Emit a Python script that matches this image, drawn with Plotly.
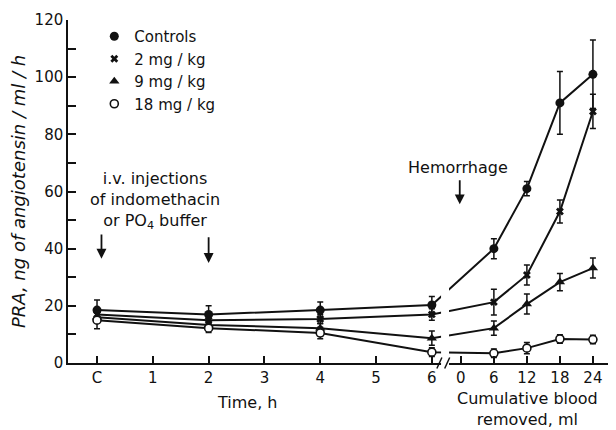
import plotly.graph_objects as go

# ---- data ----
hour_ticks = [0, 1, 2, 3, 4, 5, 6]
hour_labels = ["C", "1", "2", "3", "4", "5", "6"]
ml_ticks = [0, 6, 12, 18, 24]
ml_labels = ["0", "6", "12", "18", "24"]

hours = [0, 2, 4, 6]          # C = control sample
ml = [6, 12, 18, 24]          # cumulative blood removed

series_names = ["Controls", "2 mg / kg", "9 mg / kg", "18 mg / kg"]

controls_time = [18.5, 17.0, 18.5, 20.3]
controls_time_err = [3.5, 3.0, 2.8, 3.0]
controls_blood = [40.0, 61.0, 91.0, 101.0]
controls_blood_err = [3.5, 2.5, 11.0, 12.0]

mg2_time = [17.0, 15.0, 15.4, 17.0]
mg2_time_err = [2.0, 2.0, 1.5, 2.0]
mg2_blood = [21.3, 30.8, 53.0, 88.0]
mg2_blood_err = [4.5, 3.5, 4.0, 6.0]

mg9_time = [16.0, 13.3, 12.2, 8.7]
mg9_time_err = [1.5, 1.5, 1.5, 2.5]
mg9_blood = [12.2, 20.6, 28.3, 33.2]
mg9_blood_err = [2.5, 3.5, 3.0, 3.5]

mg18_time = [15.0, 12.2, 10.5, 3.8]
mg18_time_err = [3.0, 1.5, 2.0, 1.5]
mg18_blood = [3.4, 5.2, 8.4, 8.2]
mg18_blood_err = [1.5, 2.0, 1.5, 1.5]

# ---- broken x scale: the blood-removed segment placed after the time segment ----
ML_ORIGIN = 6.52      # axis position of 0 ml
ML_UNIT = 0.0986      # axis units per ml


def ml_pos(v):
    return ML_ORIGIN + v * ML_UNIT


FONT = "DejaVu Sans"
BLACK = "#111111"

styles = [
    dict(symbol="circle", size=9, color=BLACK, line=dict(width=0)),
    dict(symbol="x", size=7, color=BLACK, line=dict(width=0)),
    dict(symbol="triangle-up", size=9, color=BLACK, line=dict(width=0)),
    dict(symbol="circle", size=8, color="white", line=dict(width=1.6, color=BLACK)),
]

data_sets = [
    (controls_time, controls_time_err, controls_blood, controls_blood_err),
    (mg2_time, mg2_time_err, mg2_blood, mg2_blood_err),
    (mg9_time, mg9_time_err, mg9_blood, mg9_blood_err),
    (mg18_time, mg18_time_err, mg18_blood, mg18_blood_err),
]

fig = go.Figure()
for name, (yt, et, yb, eb), mk in zip(series_names, data_sets, styles):
    fig.add_trace(go.Scatter(
        x=hours + [ml_pos(v) for v in ml],
        y=yt + yb,
        mode="lines+markers",
        line=dict(color=BLACK, width=2),
        marker=mk,
        error_y=dict(type="data", array=et + eb, visible=True,
                     color=BLACK, thickness=1.5, width=3),
        showlegend=False,
        name=name,
    ))
    # legend entry (marker only)
    fig.add_trace(go.Scatter(
        x=[None], y=[None], mode="markers", marker=mk, name=name,
        showlegend=True,
    ))

# break in the axis: blank gap plus slashes
shapes = [
    dict(type="rect", xref="x", yref="paper", x0=6.165, x1=6.308, y0=-0.008, y1=1.0,
         fillcolor="white", line=dict(width=0), layer="above"),
    dict(type="line", xref="x", yref="paper", x0=6.09, x1=6.18, y0=-0.016, y1=0.016,
         line=dict(color=BLACK, width=1.5), layer="above"),
    dict(type="line", xref="x", yref="paper", x0=6.23, x1=6.32, y0=-0.016, y1=0.016,
         line=dict(color=BLACK, width=1.5), layer="above"),
]

annots = [
    dict(x=1.04, y=57, xref="x", yref="y",
         text="i.v. injections<br>of indomethacin<br>or PO<sub>4</sub> buffer",
         showarrow=False, font=dict(size=16, family=FONT, color=BLACK)),
    dict(x=6.47, y=68.5, xref="x", yref="y", text="Hemorrhage",
         showarrow=False, font=dict(size=16, family=FONT, color=BLACK)),
    dict(x=2.69, y=-0.114, xref="x", yref="paper", text="Time, h",
         xanchor="center", yanchor="middle",
         showarrow=False, font=dict(size=16, family=FONT, color=BLACK)),
    dict(x=7.71, y=-0.134, xref="x", yref="paper", text="Cumulative blood<br>removed, ml",
         xanchor="center", yanchor="middle",
         showarrow=False, font=dict(size=16, family=FONT, color=BLACK)),
]
for ax_x, tail, head in [(0.08, 45.5, 36.5), (2.0, 44.5, 35.0), (6.5, 64.5, 55.5)]:
    annots.append(dict(x=ax_x, y=head, ax=ax_x, ay=tail, xref="x", yref="y",
                       axref="x", ayref="y", text="", showarrow=True,
                       arrowhead=2, arrowsize=1.1, arrowwidth=1.8, arrowcolor=BLACK))

# page body has an 8 px default margin, so the figure is 8 px smaller each way
fig.update_layout(
    width=608, height=422,
    margin=dict(l=60, r=0, t=12, b=67),
    paper_bgcolor="white", plot_bgcolor="white",
    font=dict(family=FONT, size=15, color=BLACK),
    shapes=shapes,
    annotations=annots,
    legend=dict(x=0.048, y=1.0, xanchor="left", yanchor="top",
                bgcolor="rgba(0,0,0,0)", font=dict(size=15, family=FONT),
                itemwidth=30, tracegroupgap=0),
)
fig.update_xaxes(
    range=[-0.52, 9.3],
    tickvals=hour_ticks + [ml_pos(v) for v in ml_ticks],
    ticktext=hour_labels + ml_labels,
    ticks="inside", ticklen=7, tickwidth=1.5, tickcolor=BLACK,
    showline=True, linecolor=BLACK, linewidth=1.5,
    showgrid=False, zeroline=False,
    tickfont=dict(size=15),
    automargin=False,
)
fig.update_yaxes(
    range=[0, 120], dtick=20, tick0=0,
    ticks="inside", ticklen=8, tickwidth=1.5, tickcolor=BLACK,
    minor=dict(dtick=10, ticks="inside", ticklen=8, tickwidth=1.5, tickcolor=BLACK),
    showline=True, linecolor=BLACK, linewidth=1.5,
    showgrid=False, zeroline=False,
    tickfont=dict(size=15),
    title=dict(text="PRA, ng of angiotensin / ml / h",
               font=dict(size=18, family=FONT, style="italic"), standoff=6),
    automargin=False,
)

fig.write_html("out.html")
